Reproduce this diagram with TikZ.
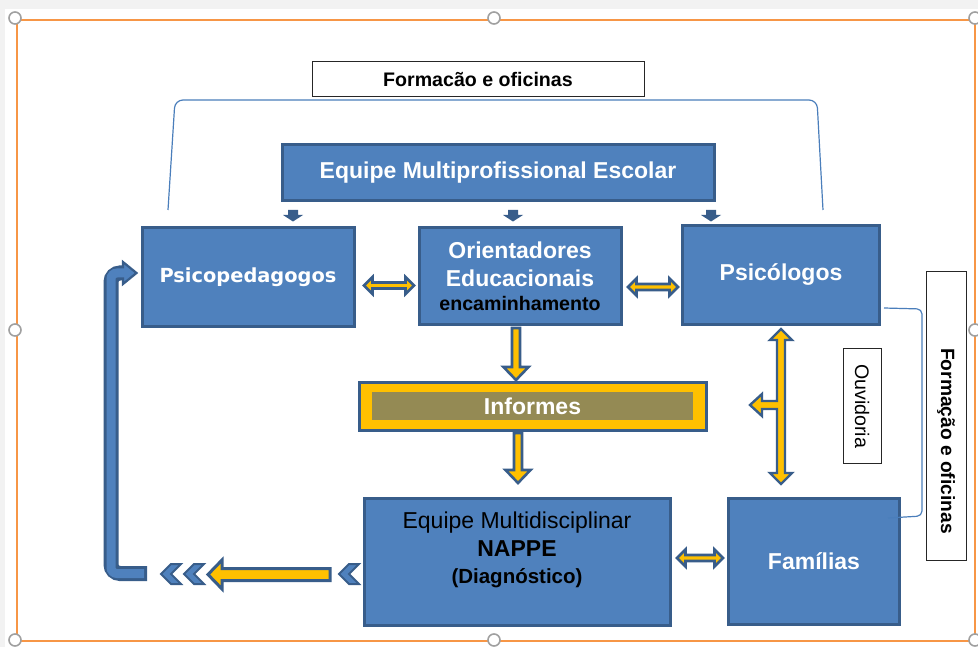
\documentclass[tikz,border=0pt]{standalone}
\usepackage{fontspec}
\setmainfont{Liberation Sans}
\newfontfamily\widefont{DejaVu Sans}
\usetikzlibrary{calc}
\definecolor{boxblue}{HTML}{4F81BD}
\definecolor{edgeblue}{HTML}{385D8A}
\definecolor{gold}{HTML}{FFC000}
\definecolor{olive}{HTML}{948A54}
\definecolor{frameorange}{HTML}{F79646}
\definecolor{linkblue}{HTML}{4A7EBB}
\definecolor{handlegray}{HTML}{A0A0A0}
\definecolor{outergray}{HTML}{F2F2F2}
% horizontal double arrow: x1, x2, y
\newcommand\myhdbl[3]{\filldraw[goldarrow] (#1,#3) -- (#1+8.5,#3-8.5) -- (#1+8.5,#3-3) -- (#2-8.5,#3-3) -- (#2-8.5,#3-8.5) -- (#2,#3) -- (#2-8.5,#3+8.5) -- (#2-8.5,#3+3) -- (#1+8.5,#3+3) -- (#1+8.5,#3+8.5) -- cycle;}
% down arrow: x, ytop, ytip
\newcommand\mydown[3]{\filldraw[goldarrow] (#1-4,#2) -- (#1+4,#2) -- (#1+4,#3-13) -- (#1+12.5,#3-13) -- (#1,#3) -- (#1-12.5,#3-13) -- (#1-4,#3-13) -- cycle;}
% small solid arrow: x
\newcommand\mysmall[1]{\fill[edgeblue] (#1-5,210) -- (#1+5,210) -- (#1+5,215) -- (#1+10,215) -- (#1,221.5) -- (#1-10,215) -- (#1-5,215) -- cycle;}
% chevron: x tip, y
\newcommand\mychev[2]{\filldraw[chevstyle] (#1,#2) -- ++(10,-10) -- ++(10,0) -- ++(-10,10) -- ++(10,10) -- ++(-10,0) -- cycle;}
\begin{document}
\begin{tikzpicture}[x=1pt,y=-1pt,
  blockbox/.style={draw=edgeblue, line width=3pt, fill=boxblue, inner sep=0pt,
    text=white, align=center, font=\bfseries\fontsize{23}{28}\selectfont},
  labelbox/.style={draw=black!85, line width=1pt, fill=white, inner sep=0pt},
  goldarrow/.style={draw=edgeblue, fill=gold, line width=2.6pt, line join=miter},
  chevstyle/.style={fill=boxblue, draw=edgeblue, line width=2pt, line join=miter},
  linkline/.style={draw=linkblue, line width=1.2pt},
  handle/.style={draw=handlegray, line width=1.6pt, fill=white}
]
\useasboundingbox (0,0) rectangle (978,647);
\fill[white] (0,0) rectangle (978,647);
\fill[outergray] (0,0) rectangle (978,9);
\fill[outergray] (0,0) rectangle (5,647);

% selection frame
\draw[frameorange, line width=2.5pt] (17,20) rectangle (975,641);

% top bracket (behind boxes)
\coordinate (brL) at (168,210);
\coordinate (brR) at (823,210);
\draw[linkline, rounded corners=8] (brL) -- (175,100) -- (817,100) -- (brR);

% top label
\node[labelbox, minimum width=332pt, minimum height=35pt, font=\bfseries\fontsize{19.6}{22}\selectfont]
  (toplabel) at (478,79.5) {Formac\~{a}o e oficinas};

% main boxes
\node[blockbox, minimum width=432pt, minimum height=56pt] (escolar) at (498,173) {Equipe Multiprofissional Escolar};
\node[blockbox, minimum width=212pt, minimum height=99pt, font=\widefont\bfseries\fontsize{19.4}{22}\selectfont] (psicoped) at (248,277) {Psicopedagogos};
\node[blockbox, minimum width=202pt, minimum height=97pt] (orient) at (520,276)
  {Orientadores\\Educacionais\\[-4pt]{\color{black}\fontsize{19.6}{22}\selectfont encaminhamento}};
\node[blockbox, minimum width=197pt, minimum height=99pt] (psicol) at (781,275) {\raisebox{-3pt}{Psic\'ologos}};
\node[blockbox, minimum width=306pt, minimum height=127pt] (nappe) at (517,562) {};
\node[align=center, text=black, font=\fontsize{23}{27.5}\selectfont, inner sep=0pt] (nappetext) at (517,550)
  {Equipe Multidisciplinar\\\textbf{NAPPE}\\{\bfseries\fontsize{20.5}{22}\selectfont (Diagn\'ostico)}};
\node[blockbox, minimum width=171pt, minimum height=126pt] (familias) at (814,561) {Fam\'ilias};

% informes
\node[draw=edgeblue, line width=2.6pt, fill=gold, minimum width=347pt, minimum height=48pt, inner sep=0pt] (informes) at (533,406.5) {};
\node[fill=olive, minimum width=321pt, minimum height=28pt, inner sep=0pt, text=white,
  font=\bfseries\fontsize{23}{28}\selectfont] (informesin) at (532.5,406) {Informes};

% side labels
\node[labelbox, minimum width=38pt, minimum height=115pt] (ouvbox) at (862,406) {};
\node[rotate=-90, font=\fontsize{19.6}{22}\selectfont, inner sep=0pt] (ouvtext) at (ouvbox.center) {Ouvidoria};
\node[labelbox, minimum width=40pt, minimum height=288pt] (rightbox) at (946,416) {};
\node[rotate=-90, font=\bfseries\fontsize{19.2}{22}\selectfont, inner sep=0pt] (righttext) at (946,441) {Forma\c{c}\~{a}o e oficinas};

% right bracket
\coordinate (rbA) at ($(psicol.east)+(3,33)$);
\coordinate (rbB) at ($(familias.east)+(-13,-43)$);
\draw[linkline, rounded corners=5] (rbA) -- (922,309) -- (922,516) -- (rbB);

% small arrows under escolar
\mysmall{293}
\mysmall{513}
\mysmall{711}

% horizontal double arrows
\myhdbl{364}{414}{285.5}
\myhdbl{628}{678}{287}
\myhdbl{677}{723}{558}

% down arrows
\mydown{516}{328}{380}
\mydown{518}{433}{483}

% T arrow between psicologos and familias
\filldraw[goldarrow, line width=2.4pt]
  (781,329) -- (792,340) -- (785,340) -- (785,473) -- (792,473) -- (781,484)
  -- (770,473) -- (777,473) -- (777,409) -- (762,409) -- (762,416) -- (750,405)
  -- (762,394) -- (762,401) -- (777,401) -- (777,340) -- (770,340) -- cycle;

% return U-arrow on the left
\coordinate (uStart) at (147,573.5);
\coordinate (uEnd) at ($(psicoped.west)+(-4,-4)$);
\draw[edgeblue, line width=15pt, rounded corners=9] (uStart) -- (111,573.5) -- (111,273) -- (126,273);
\filldraw[draw=edgeblue, fill=boxblue, line width=2.2pt, line join=miter]
  (123,262) -- (uEnd) -- (123,284) -- cycle;
\draw[boxblue, line width=9pt, rounded corners=6] ($(uStart)+(-3,0)$) -- (111,573.5) -- (111,273) -- (126,273);

% chevrons and left arrow
\mychev{161}{574}
\mychev{184}{574}
\mychev{339}{574}
\filldraw[goldarrow, line width=3pt] (208,574.5) -- (222,560) -- (222,568.5) -- (330,568.5) -- (330,580.5) -- (222,580.5) -- (222,589) -- cycle;

% selection handles
\foreach \hx/\hy in {15/18, 494/18, 975/18, 15/330, 975/330, 15/640, 494/640, 975/640}
  \filldraw[handle] (\hx,\hy) circle (6);
\end{tikzpicture}
\end{document}
